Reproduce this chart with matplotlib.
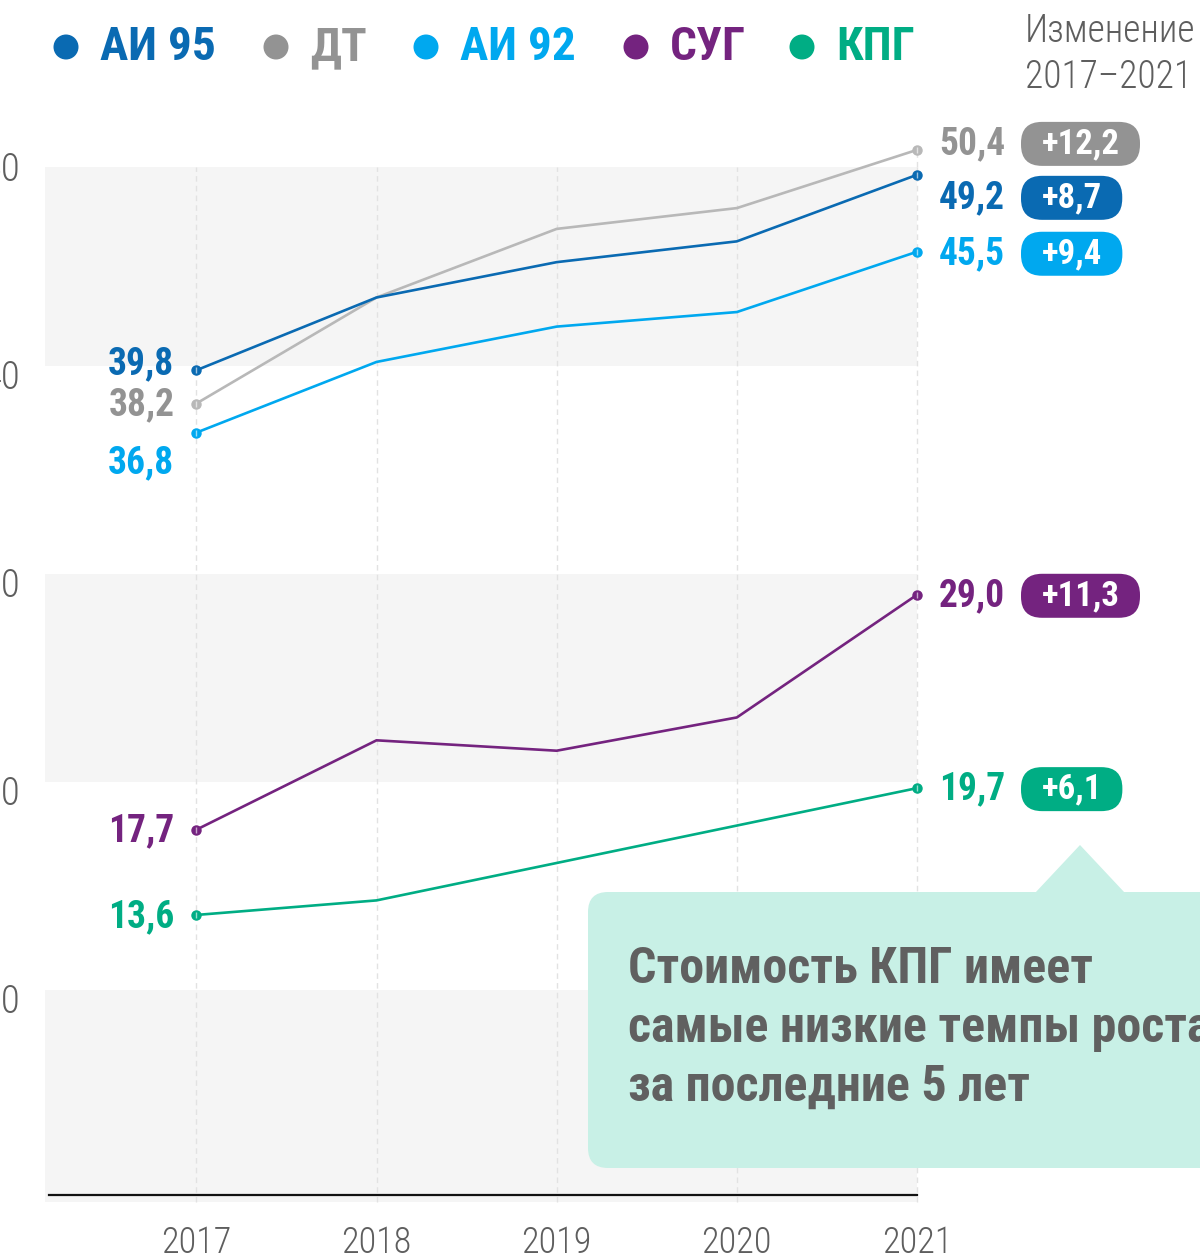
import matplotlib.pyplot as plt
from matplotlib import transforms
from matplotlib.patches import FancyBboxPatch, Polygon, Circle

years = [2017, 2018, 2019, 2020, 2021]
fuels = ['АИ 95', 'ДТ', 'АИ 92', 'СУГ', 'КПГ']
ai95 = [39.8, 43.3, 45.0, 46.0, 49.2]
dt = [38.2, 43.3, 46.6, 47.6, 50.4]
ai92 = [36.8, 40.2, 41.9, 42.6, 45.5]
sug = [17.7, 22.0, 21.5, 23.1, 29.0]
kpg = [13.6, 14.3, 16.1, 17.9, 19.7]
changes = ['+8,7', '+12,2', '+9,4', '+11,3', '+6,1']
y_ticks = [10, 20, 30, 40, 50]
note = 'Стоимость КПГ имеет\nсамые низкие темпы роста\nза последние 5 лет'

series = [ai95, dt, ai92, sug, kpg]
text_colors = ['#0a6ab2', '#939393', '#00a8ef', '#74237f', '#00ad84']
line_colors = ['#0a6ab2', '#b8b8b8', '#00a8ef', '#74237f', '#00ad84']
# label offsets in pixels (down is positive), left end / right end
left_dy = [-6, 1, 30, 1, 2]
right_dy = [23, -6, 2, 1, 1]

plt.rcParams['font.family'] = ['Roboto Condensed', 'Liberation Sans Narrow', 'DejaVu Sans']

W, H = 1200, 1256
fig = plt.figure(figsize=(W / 100, H / 100), dpi=100)
ax = fig.add_axes([45 / W, (H - 1197.7) / H, (917 - 45) / W, 1039.5 / H])
ax.set_xlim(2016.16, 2021)
ax.set_ylim(0, 50)
for s in ['top', 'right', 'left']:
    ax.spines[s].set_visible(False)
ax.spines['bottom'].set_linewidth(1.6)
ax.spines['bottom'].set_color('#111111')
ax.spines['bottom'].set_position(('data', 0.12))
ax.spines['bottom'].set_bounds(2016.18, 2021)
ax.set_xticks([])
ax.set_yticks([])

for lo, hi in [(-0.2, 10), (20, 30), (40, 49.6)]:
    ax.axhspan(lo, hi, color='#f5f5f5', lw=0, zorder=0, clip_on=False)
ax.vlines(years, -0.2, 49.6, colors='#e2e2e2', linestyles=(0, (4, 3)),
          lw=1, zorder=1, clip_on=False)
ax.vlines(years[-1], 49.6, dt[-1], colors='#e2e2e2', linestyles=(0, (4, 3)),
          lw=1, zorder=1, clip_on=False)

for vals, c in zip(series[::-1], line_colors[::-1]):
    ax.plot(years, vals, color=c, lw=1.9, zorder=3, clip_on=False)
    ends_x = [years[0], years[-1]]
    ends_y = [vals[0], vals[-1]]
    ax.plot(ends_x, ends_y, 'o', color=c, ms=6.5, zorder=4, clip_on=False)
    ax.plot(ends_x, ends_y, '|', color='white', alpha=0.6, ms=5, mew=1,
            zorder=5, clip_on=False)

ytr = ax.get_yaxis_transform()
for v in y_ticks:
    ax.text(0, v, str(v), transform=transforms.offset_copy(ytr, fig, x=-25, y=-12, units='dots'),
            ha='right', va='center', fontsize=28, color='#5e5e5e', fontweight='light')

for y in years:
    ax.text(y, 0, str(y), transform=transforms.offset_copy(ax.get_xaxis_transform(), fig, x=0, y=-45, units='dots'),
            ha='center', va='center', fontsize=26, color='#5e5e5e', fontweight='light')

renderer = fig.canvas.get_renderer()
for vals, tc, dl, dr, ch in zip(series, text_colors, left_dy, right_dy, changes):
    fmt = lambda v: f'{v:.1f}'.replace('.', ',')
    ax.text(years[0], vals[0], fmt(vals[0]),
            transform=transforms.offset_copy(ax.transData, fig, x=-22, y=-dl, units='dots'),
            ha='right', va='center', fontsize=27, fontweight='bold', color=tc)
    ax.text(years[-1], vals[-1], fmt(vals[-1]),
            transform=transforms.offset_copy(ax.transData, fig, x=22, y=-dr, units='dots'),
            ha='left', va='center', fontsize=27, fontweight='bold', color=tc)
    # badge
    ydisp = ax.transData.transform((years[-1], vals[-1]))[1] - dr
    t = fig.text(1042 / W, ydisp / H, ch, ha='left', va='center', fontsize=25,
                 fontweight='bold', color='white', zorder=6)
    ext = t.get_window_extent(renderer)
    fig.add_artist(FancyBboxPatch((1021, ydisp - 22), ext.x1 + 20 - 1021, 44,
                                  boxstyle='round,pad=0,rounding_size=21',
                                  transform=transforms.IdentityTransform(),
                                  fc=tc, ec='none', zorder=5))

# legend
leg_x = [66, 276, 426, 636, 802]
for x, name, tc in zip(leg_x, fuels, text_colors):
    fig.add_artist(Circle((x, H - 47), 12.5, transform=transforms.IdentityTransform(),
                          fc=tc, ec='none'))
    fig.text((x + 34) / W, 1 - 47 / H, name, ha='left', va='center', fontsize=34,
             fontweight='bold', color=tc)

fig.text(1025 / W, 1 - 54 / H, 'Изменение\n2017–2021', ha='left', va='center',
         fontsize=27, color='#5e5e5e', linespacing=1.3, fontweight='light')

# note box
box_c = '#c8f0e6'
fig.add_artist(FancyBboxPatch((588, H - 1168), 700, 1168 - 892,
                              boxstyle='round,pad=0,rounding_size=20',
                              transform=transforms.IdentityTransform(),
                              fc=box_c, ec='none', zorder=7))
fig.add_artist(Polygon([(1035, H - 893), (1125, H - 893), (1080, H - 845)],
                       transform=transforms.IdentityTransform(),
                       fc=box_c, ec='none', zorder=7))
fig.text(628 / W, 1 - 1028 / H, note, ha='left', va='center', fontsize=36,
         fontweight='bold', color='#606060', linespacing=1.32, zorder=8)

fig.savefig('out.png', dpi=100)
